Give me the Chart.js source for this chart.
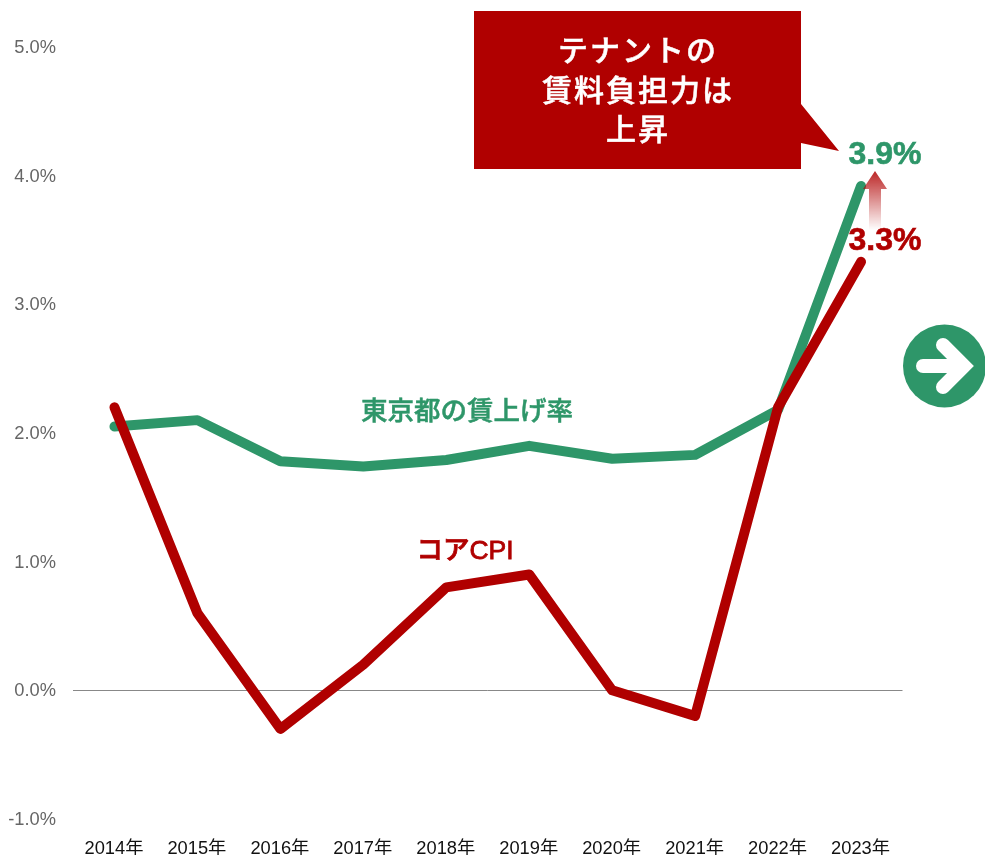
<!DOCTYPE html>
<html lang="ja">
<head>
<meta charset="utf-8">
<title>テナントの賃料負担力</title>
<script src="https://cdn.jsdelivr.net/npm/chart.js@4/dist/chart.umd.min.js"></script>
<style>
  html, body { margin: 0; padding: 0; background: #fff; overflow: hidden; }
  canvas { display: block; }
</style>
</head>
<body>
<canvas id="chart" width="985" height="855"></canvas>
<script>
const categories = ['2014年', '2015年', '2016年', '2017年', '2018年', '2019年', '2020年', '2021年', '2022年', '2023年'];
const wageValues = [2.05, 2.1, 1.78, 1.74, 1.79, 1.9, 1.8, 1.83, 2.18, 3.92];
const cpiValues = [2.2, 0.6, -0.3, 0.2, 0.8, 0.9, 0.0, -0.2, 2.2, 3.33];
const calloutLines = ['テナントの', '賃料負担力は', '上昇'];

const GREEN = '#2E9669';
const RED = '#B00000';
const FONT = '"Liberation Sans", "Noto Sans CJK JP", sans-serif';
const CJK_FONT = '"Noto Sans CJK JP", sans-serif';

function drawText(ctx, text, x, y, font, color, spacing, stroke) {
  ctx.font = font;
  ctx.fillStyle = color;
  ctx.textAlign = 'center';
  ctx.textBaseline = 'alphabetic';
  ctx.letterSpacing = spacing || '0px';
  ctx.fillText(text, x, y);
  if (stroke) {
    ctx.strokeStyle = color;
    ctx.lineWidth = stroke;
    ctx.strokeText(text, x, y);
  }
  ctx.letterSpacing = '0px';
}

// Everything that sits on top of the lines: callout, labels, arrows
const annotations = {
  id: 'annotations',
  afterDatasetsDraw(chart) {
    const ctx = chart.ctx;
    const x = chart.scales.x;
    const y = chart.scales.y;
    const lastX = x.getPixelForValue(categories.length - 1);
    ctx.save();

    // Callout box
    ctx.fillStyle = RED;
    ctx.beginPath();
    ctx.moveTo(474, 11);
    ctx.lineTo(801, 11);
    ctx.lineTo(801, 104);
    ctx.lineTo(839, 151);
    ctx.lineTo(801, 143);
    ctx.lineTo(801, 169);
    ctx.lineTo(474, 169);
    ctx.closePath();
    ctx.fill();
    [61, 101, 140].forEach((baseline, i) => {
      drawText(ctx, calloutLines[i], 638, baseline, `500 30px ${CJK_FONT}`, '#fff', '2px', 0.5);
    });

    // Series names
    drawText(ctx, '東京都の賃上げ率', 467, 420, `500 26.5px ${CJK_FONT}`, GREEN, '0px', 0.5);
    drawText(ctx, 'コアCPI', 465, 559, `500 26.5px ${FONT}`, RED, '0px', 0.8);

    // End values
    drawText(ctx, '3.9%', lastX + 24, y.getPixelForValue(wageValues[9]) - 22, `bold 32px ${FONT}`, GREEN, '0px', 0.6);
    drawText(ctx, '3.3%', lastX + 24, y.getPixelForValue(cpiValues[9]) - 12, `bold 32px ${FONT}`, RED, '0px', 0.6);

    // Fading up arrow between the two end values
    const fade = ctx.createLinearGradient(0, 230, 0, 171);
    fade.addColorStop(0, 'rgba(176,0,0,0)');
    fade.addColorStop(1, 'rgba(176,0,0,0.85)');
    ctx.fillStyle = fade;
    ctx.beginPath();
    ctx.moveTo(875, 171);
    ctx.lineTo(887, 189);
    ctx.lineTo(881, 189);
    ctx.lineTo(881, 230);
    ctx.lineTo(869, 230);
    ctx.lineTo(869, 189);
    ctx.lineTo(863, 189);
    ctx.closePath();
    ctx.fill();

    // Round arrow badge at the right edge
    ctx.fillStyle = GREEN;
    ctx.beginPath();
    ctx.arc(944.5, 366, 41.5, 0, Math.PI * 2);
    ctx.fill();
    ctx.strokeStyle = '#fff';
    ctx.lineWidth = 14;
    ctx.lineCap = 'round';
    ctx.lineJoin = 'miter';
    ctx.beginPath();
    ctx.moveTo(923, 366);
    ctx.lineTo(962, 366);
    ctx.moveTo(943, 345);
    ctx.lineTo(964, 366);
    ctx.lineTo(943, 387);
    ctx.stroke();

    ctx.restore();
  },
};

function lineDataset(data, color, order) {
  return {
    data,
    order,
    borderColor: color,
    borderWidth: 10,
    borderCapStyle: 'round',
    borderJoinStyle: 'round',
    pointRadius: 0,
    tension: 0,
    clip: false,
  };
}

new Chart(document.getElementById('chart'), {
  type: 'line',
  data: {
    labels: categories,
    // lower order is painted last, the red line crosses over the green one
    datasets: [lineDataset(wageValues, GREEN, 2), lineDataset(cpiValues, RED, 1)],
  },
  options: {
    responsive: false,
    animation: false,
    layout: { padding: { top: 47, right: 82.5, bottom: 0, left: 0 } },
    plugins: { legend: { display: false }, tooltip: { enabled: false } },
    scales: {
      x: {
        offset: true,
        grid: { display: false },
        border: { display: false },
        afterFit(scale) { scale.height = 36; },
        ticks: { color: '#111', font: { size: 18.3, family: FONT }, padding: 11, labelOffset: -0.5, maxRotation: 0, autoSkip: false },
      },
      y: {
        min: -1,
        max: 5,
        afterFit(scale) { scale.width = 73; },
        border: { display: false },
        grid: {
          drawTicks: false,
          lineWidth: 1,
          color: (c) => (c.tick.value === 0 ? '#888' : 'transparent'),
        },
        ticks: {
          stepSize: 1,
          color: '#666',
          font: { size: 18.3, family: FONT },
          padding: 17,
          labelOffset: 1,
          callback: (v) => v.toFixed(1) + '%',
        },
      },
    },
  },
  plugins: [annotations],
});
</script>
</body>
</html>
